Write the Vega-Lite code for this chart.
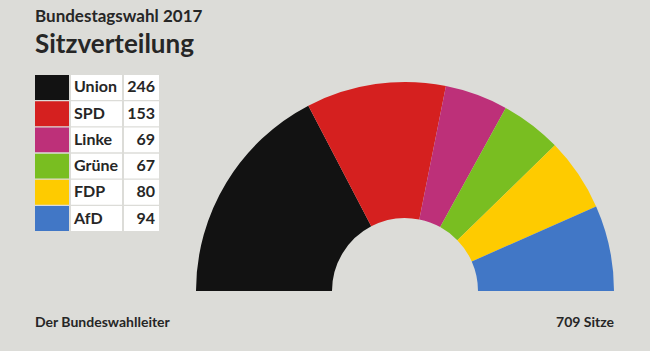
{
  "$schema": "https://vega.github.io/schema/vega-lite/v6.json",
  "background": "#dcdcd8",
  "padding": {"left": 35, "right": 36, "top": 8, "bottom": 20},
  "config": {"view": {"stroke": null}, "font": "Lato", "concat": {"spacing": 0}},
  "title": {
    "text": "Bundestagswahl 2017",
    "subtitle": "Sitzverteilung",
    "anchor": "start",
    "frame": "bounds",
    "font": "Lato",
    "fontSize": 17,
    "fontWeight": "bold",
    "color": "#262626",
    "subtitleFont": "Lato",
    "subtitleFontSize": 26,
    "subtitleFontWeight": "bold",
    "subtitleColor": "#262626",
    "subtitlePadding": 6,
    "offset": 16
  },
  "datasets": {
    "seats": [
      {"partei": "Union", "sitze": 246, "rang": 1},
      {"partei": "SPD", "sitze": 153, "rang": 2},
      {"partei": "Linke", "sitze": 69, "rang": 3},
      {"partei": "Grüne", "sitze": 67, "rang": 4},
      {"partei": "FDP", "sitze": 80, "rang": 5},
      {"partei": "AfD", "sitze": 94, "rang": 6}
    ],
    "footer": [
      {"label": "Der Bundeswahlleiter", "seite": "links"},
      {"label": "709 Sitze", "seite": "rechts"}
    ]
  },
  "vconcat": [
    {
      "hconcat": [
        {
          "hconcat": [
            {
              "width": 34,
              "height": 156,
              "data": {"name": "seats"},
              "mark": "rect",
              "encoding": {
                "y": {"field": "partei", "type": "nominal", "sort": ["Union", "SPD", "Linke", "Grüne", "FDP", "AfD"], "axis": null, "scale": {"paddingInner": 0.05, "paddingOuter": 0}},
                "color": {"field": "partei", "type": "nominal", "legend": null, "scale": {"domain": ["Union", "SPD", "Linke", "Grüne", "FDP", "AfD"], "range": ["#121212", "#d5201f", "#bd3079", "#79be21", "#fecb00", "#4177c6"]}}
              }
            },
            {
              "width": 51,
              "height": 156,
              "data": {"name": "seats"},
              "encoding": {
                "y": {"field": "partei", "type": "nominal", "sort": ["Union", "SPD", "Linke", "Grüne", "FDP", "AfD"], "axis": null, "scale": {"paddingInner": 0.05, "paddingOuter": 0}}
              },
              "layer": [
                {"mark": {"type": "rect", "fill": "#ffffff"}},
                {
                  "mark": {"type": "text", "align": "left", "baseline": "middle", "fontSize": 16, "fontWeight": "bold", "color": "#262626"},
                  "encoding": {"text": {"field": "partei"}, "x": {"value": 3}}
                }
              ]
            },
            {
              "width": 35,
              "height": 156,
              "data": {"name": "seats"},
              "encoding": {
                "y": {"field": "partei", "type": "nominal", "sort": ["Union", "SPD", "Linke", "Grüne", "FDP", "AfD"], "axis": null, "scale": {"paddingInner": 0.05, "paddingOuter": 0}}
              },
              "layer": [
                {"mark": {"type": "rect", "fill": "#ffffff"}},
                {
                  "mark": {"type": "text", "align": "right", "baseline": "middle", "fontSize": 16, "fontWeight": "bold", "color": "#262626"},
                  "encoding": {"text": {"field": "sitze"}, "x": {"value": 31}}
                }
              ]
            }
          ],
          "spacing": 2
        },
        {
          "width": 418,
          "height": 216,
          "data": {"name": "seats"},
          "mark": {"type": "arc", "radius": 209, "radius2": 73, "y": "height"},
          "encoding": {
            "theta": {"field": "sitze", "type": "quantitative", "stack": true, "scale": {"range": [-1.5707963, 1.5707963]}},
            "order": {"field": "rang"},
            "color": {"field": "partei", "type": "nominal", "legend": null, "scale": {"domain": ["Union", "SPD", "Linke", "Grüne", "FDP", "AfD"], "range": ["#121212", "#d5201f", "#bd3079", "#79be21", "#fecb00", "#4177c6"]}}
          }
        }
      ],
      "spacing": 37
    },
    {
      "width": 579,
      "height": 16,
      "data": {"name": "footer"},
      "encoding": {
        "text": {"field": "label"},
        "x": {"field": "seite", "type": "nominal", "axis": null, "scale": {"type": "point", "domain": ["links", "rechts"], "padding": 0}}
      },
      "layer": [
        {
          "transform": [{"filter": "datum.seite == 'links'"}],
          "mark": {"type": "text", "align": "left", "baseline": "middle", "fontSize": 14, "fontWeight": "bold", "color": "#262626"}
        },
        {
          "transform": [{"filter": "datum.seite == 'rechts'"}],
          "mark": {"type": "text", "align": "right", "baseline": "middle", "fontSize": 14, "fontWeight": "bold", "color": "#262626"}
        }
      ]
    }
  ],
  "spacing": 24
}
